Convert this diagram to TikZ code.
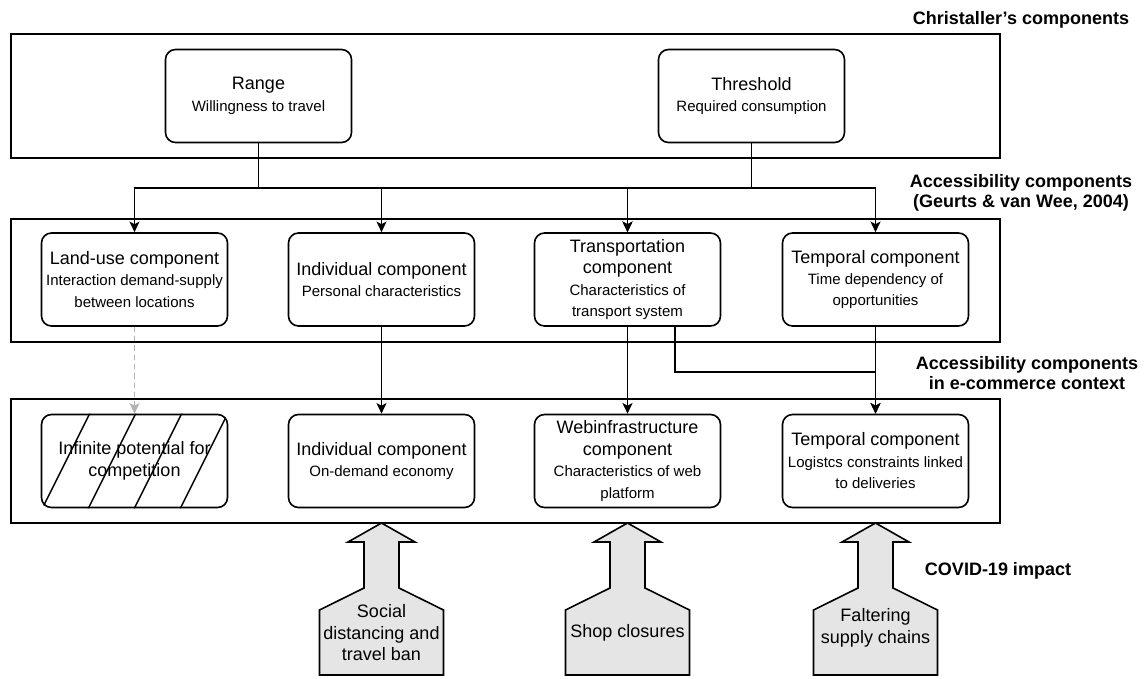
\documentclass[tikz,border=0pt]{standalone}
\usepackage{fontspec}
\setmainfont{Liberation Sans}
\usetikzlibrary{arrows.meta}
\newcommand\ttl[1]{{\fontsize{13.5}{16.1}\selectfont #1}}
\newcommand\covidshape[1]{%
  \draw[covid] (#1,523) -- (#1+33.5,542) -- (#1+17.5,542) -- (#1+17.5,588) -- (#1+62,610) -- (#1+62,675)
    -- (#1-62,675) -- (#1-62,610) -- (#1-17.5,588) -- (#1-17.5,542) -- (#1-33.5,542) -- cycle;}
\begin{document}
\begin{tikzpicture}[x=0.75pt,y=-0.75pt,
  cont/.style={draw, line width=1.4pt, inner sep=0pt, minimum width=741.75pt},
  box/.style={draw, line width=1.2pt, rounded corners=7.5pt, minimum width=139.5pt, minimum height=69.75pt,
    align=center, inner sep=1pt, font=\fontsize{11.25}{16.1}\selectfont},
  arr/.style={line width=1.3pt, -{Stealth[length=8pt,width=7.5pt,inset=2pt]}},
  dasharr/.style={line width=1pt, draw=black!30, dashed, dash pattern=on 4pt off 3pt, -{Stealth[length=8pt,width=7.5pt,inset=2pt]}},
  lbl/.style={align=center, inner sep=0pt, font=\bfseries\fontsize{13.5}{15.3}\selectfont},
  covid/.style={draw, line width=1.2pt, fill=black!10, line join=miter},
  ctext/.style={align=center, inner sep=0pt, font=\fontsize{13.5}{16.1}\selectfont}
]
\useasboundingbox (0,0) rectangle (1148,678);

% containers
\node[cont, minimum height=93pt] (c1) at (505.5,96) {};
\node[cont, minimum height=92.25pt] (c2) at (505.5,280.5) {};
\node[cont, minimum height=93pt] (c3) at (505.5,461) {};

% Christaller
\node[box] (range) at (258.5,96) {\ttl{Range}\\Willingness to travel};
\node[box] (thresh) at (751.5,96) {\ttl{Threshold}\\Required consumption};

% accessibility
\node[box] (landuse) at (134.5,279.5) {\ttl{Land-use component}\\Interaction demand-supply\\between locations};
\node[box] (indiv) at (381.5,279.5) {\ttl{Individual component}\\Personal characteristics};
\node[box] (transp) at (627.5,279.5) {\ttl{Transportation}\\\ttl{component}\\Characteristics of\\transport system};
\node[box] (temp) at (875.5,279.5) {\ttl{Temporal component}\\Time dependency of\\opportunities};

% e-commerce
\node[box] (infinite) at (134.5,461) {\ttl{Infinite potential for}\\\ttl{competition}};
\begin{scope}
  \clip[rounded corners=7.5pt] (infinite.south west) rectangle (infinite.north east);
  \foreach \k in {0,...,3} \draw[line width=1.1pt] ({36.5+46*\k},520) -- ({96.5+46*\k},400);
\end{scope}
\node[box] (eindiv) at (381.5,461) {\ttl{Individual component}\\On-demand economy};
\node[box] (web) at (627.5,461) {\ttl{Webinfrastructure}\\\ttl{component}\\Characteristics of web\\platform};
\node[box] (etemp) at (875.5,461) {\ttl{Temporal component}\\Logistcs constraints linked\\to deliveries};

% connectors
\draw[arr] (range.south) -- ++(0,45) -| (landuse.north);
\draw[arr] (range.south) -- ++(0,45) -| (indiv.north);
\draw[arr] (range.south) -- ++(0,45) -| (transp.north);
\draw[arr] (thresh.south) -- ++(0,45) -| (transp.north);
\draw[arr] (thresh.south) -- ++(0,45) -| (temp.north);
\draw[dasharr] (landuse.south) -- (infinite.north);
\draw[arr] (indiv.south) -- (eindiv.north);
\draw[arr] (transp.south) -- (web.north);
\draw[arr] (temp.south) -- (etemp.north);
\draw[arr] ([xshift=35.6pt]transp.south) -- ++(0,45) -| (etemp.north);

% labels
\node[lbl] (l1) at (1021,20) {Christaller's components};
\node[lbl] (l2) at (1021,193) {Accessibility components\\(Geurts \& van Wee, 2004)};
\node[lbl] (l3) at (1027,373) {Accessibility components\\in e-commerce context};
\node[lbl] (l4) at (998,571) {COVID-19 impact};

% COVID impact arrows
\covidshape{381.5}
\covidshape{627.5}
\covidshape{875.5}
\node[ctext] (social) at (381.5,633) {Social\\distancing and\\travel ban};
\node[ctext] (shop) at (627.5,633) {Shop closures};
\node[ctext] (falter) at (875.5,628) {Faltering\\supply chains};
\end{tikzpicture}
\end{document}
